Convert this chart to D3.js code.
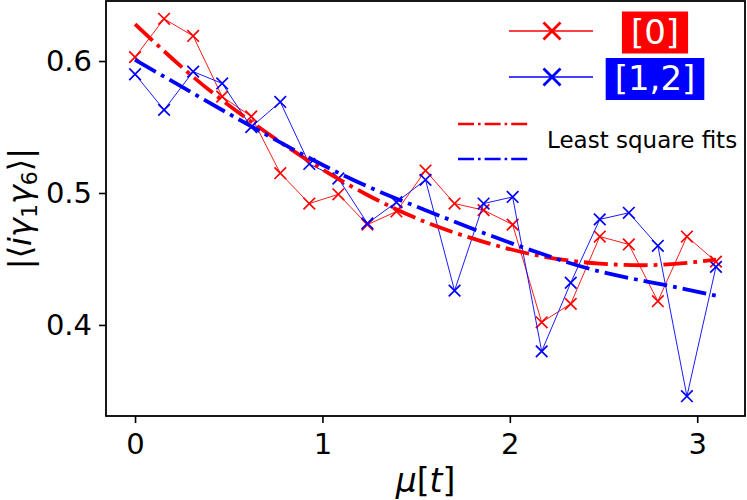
<!DOCTYPE html>
<html>
<head>
<meta charset="utf-8">
<script src="https://cdn.jsdelivr.net/npm/d3@7/dist/d3.min.js"></script>
<style>
  html, body { margin: 0; padding: 0; background: #fff; }
  svg { display: block; font-family: "DejaVu Sans", sans-serif; }
</style>
</head>
<body>
<div id="chart"></div>
<script>
// ---------------------------
// DATA
// ---------------------------
const muValues = [0, 0.155, 0.31, 0.465, 0.62, 0.775, 0.93, 1.085, 1.24, 1.395, 1.55,
                  1.705, 1.86, 2.015, 2.17, 2.325, 2.48, 2.635, 2.79, 2.945, 3.1];
const redValues = [0.603, 0.632, 0.619, 0.573, 0.558, 0.515, 0.492, 0.499, 0.476, 0.486, 0.517,
                   0.492, 0.487, 0.476, 0.402, 0.416, 0.467, 0.461, 0.418, 0.467, 0.448];
const blueValues = [0.590, 0.563, 0.592, 0.583, 0.550, 0.569, 0.522, 0.511, 0.477, 0.493, 0.510,
                    0.426, 0.492, 0.497, 0.380, 0.432, 0.480, 0.485, 0.460, 0.346, 0.444];

// least square fit curves
const fitMu = [0, 0.31, 0.62, 0.93, 1.24, 1.55, 1.86, 2.17, 2.48, 2.79, 3.1];
const fitRed = [0.628, 0.588, 0.554, 0.524, 0.4985, 0.478, 0.463, 0.452, 0.4465, 0.4455, 0.4495];
const fitBlue = [0.601, 0.5755, 0.5505, 0.5265, 0.505, 0.487, 0.4697, 0.4539, 0.4405, 0.4313, 0.4222];

const xTicks = [0, 1, 2, 3];
const yTicks = [0.4, 0.5, 0.6];
const legendLabels = ["[0]", "[1,2]"];
const fitLabel = "Least square fits";

// ---------------------------
// LAYOUT
// ---------------------------
const width = 747, height = 500;
const plot = { left: 106, right: 745, top: 1, bottom: 416 };
const RED = "#ff0000", BLUE = "#0000ff";

const svg = d3.select("#chart").append("svg")
  .attr("width", width)
  .attr("height", height);

svg.append("rect").attr("width", width).attr("height", height).attr("fill", "#fff");

const x = d3.scaleLinear().domain([-0.155, 3.255]).range([plot.left, plot.right]);
const y = d3.scaleLinear().domain([0.331, 0.6455]).range([plot.bottom, plot.top]);

// ---------------------------
// AXES
// ---------------------------
const xAxis = svg.append("g")
  .attr("transform", `translate(0,${plot.bottom})`)
  .call(d3.axisBottom(x).tickValues(xTicks).tickFormat(d3.format("d"))
    .tickSize(7).tickSizeOuter(0).tickPadding(10));

const yAxis = svg.append("g")
  .attr("transform", `translate(${plot.left},0)`)
  .call(d3.axisLeft(y).tickValues(yTicks).tickFormat(d3.format(".1f"))
    .tickSize(7).tickSizeOuter(0).tickPadding(7));

[xAxis, yAxis].forEach(a => {
  a.select(".domain").remove();
  a.selectAll(".tick line").attr("stroke", "#000").attr("stroke-width", 1.6);
  a.selectAll(".tick text")
    .attr("fill", "#000")
    .style("font-family", "DejaVu Sans")
    .style("font-size", "29px");
});

// ---------------------------
// DATA LINES + X MARKERS
// ---------------------------
const crossPath = s => `M${-s},${-s}L${s},${s}M${-s},${s}L${s},${-s}`;

const drawSeries = (values, color) => {
  const pts = muValues.map((m, i) => [m, values[i]]);
  svg.append("path")
    .datum(pts)
    .attr("fill", "none")
    .attr("stroke", color)
    .attr("stroke-width", 0.9)
    .attr("d", d3.line().x(d => x(d[0])).y(d => y(d[1])));
  svg.append("g").selectAll("path")
    .data(pts)
    .join("path")
    .attr("transform", d => `translate(${x(d[0])},${y(d[1])})`)
    .attr("d", crossPath(5.8))
    .attr("stroke", color)
    .attr("stroke-width", 1.7)
    .attr("fill", "none");
};

drawSeries(redValues, RED);
drawSeries(blueValues, BLUE);

// ---------------------------
// FIT CURVES (dash-dot)
// ---------------------------
const drawFit = (values, color) => {
  svg.append("path")
    .datum(fitMu.map((m, i) => [m, values[i]]))
    .attr("fill", "none")
    .attr("stroke", color)
    .attr("stroke-width", 3.8)
    .attr("stroke-dasharray", "24 6 3.8 6")
    .attr("d", d3.line().curve(d3.curveNatural).x(d => x(d[0])).y(d => y(d[1])));
};

drawFit(fitRed, RED);
drawFit(fitBlue, BLUE);

// frame
svg.append("rect")
  .attr("x", plot.left).attr("y", plot.top)
  .attr("width", plot.right - plot.left).attr("height", plot.bottom - plot.top)
  .attr("fill", "none").attr("stroke", "#000").attr("stroke-width", 1.8);

// ---------------------------
// LEGEND
// ---------------------------
const legend = svg.append("g");
const legendRows = [
  { color: RED, label: legendLabels[0], lineY: 31, baseY: 43.5 },
  { color: BLUE, label: legendLabels[1], lineY: 77, baseY: 90 }
];

legendRows.forEach(r => {
  legend.append("line")
    .attr("x1", 509).attr("x2", 593).attr("y1", r.lineY).attr("y2", r.lineY)
    .attr("stroke", r.color).attr("stroke-width", 1.5);
  legend.append("path")
    .attr("transform", `translate(552,${r.lineY})`)
    .attr("d", crossPath(8.5))
    .attr("stroke", r.color).attr("stroke-width", 2.8).attr("fill", "none");

  const box = legend.append("rect").attr("fill", r.color);
  const t = legend.append("text")
    .attr("x", 655).attr("y", r.baseY)
    .attr("text-anchor", "middle")
    .attr("fill", "#fff")
    .style("font-size", "34px")
    .text(r.label);
  const bb = t.node().getBBox();
  box.attr("x", bb.x - 9).attr("width", bb.width + 18)
    .attr("y", r.baseY - 32).attr("height", 42);
});

// fit legend lines
[[RED, 124], [BLUE, 159]].forEach(([c, ly]) => {
  legend.append("line")
    .attr("x1", 458).attr("x2", 528).attr("y1", ly).attr("y2", ly)
    .attr("stroke", c).attr("stroke-width", 2.6)
    .attr("stroke-dasharray", "16 4 2.6 4");
});

legend.append("text")
  .attr("x", 547).attr("y", 148)
  .attr("fill", "#000")
  .style("font-size", "23px")
  .text(fitLabel);

// ---------------------------
// AXIS LABELS (math style)
// ---------------------------
const xLabel = svg.append("text")
  .attr("x", (plot.left + plot.right) / 2).attr("y", 492)
  .attr("text-anchor", "middle")
  .attr("fill", "#000")
  .style("font-size", "33px");
xLabel.append("tspan").style("font-style", "italic").text("μ");
xLabel.append("tspan").text("[");
xLabel.append("tspan").style("font-style", "italic").text("t");
xLabel.append("tspan").text("]");

const yLabel = svg.append("text")
  .attr("transform", `translate(30.5,${(plot.top + plot.bottom) / 2}) rotate(-90)`)
  .attr("text-anchor", "middle")
  .attr("fill", "#000")
  .style("font-size", "32px");
yLabel.append("tspan").text("|⟨");
yLabel.append("tspan").style("font-style", "italic").text("iγ");
yLabel.append("tspan").attr("dy", 6).style("font-size", "22px").text("1");
yLabel.append("tspan").attr("dy", -6).style("font-style", "italic").text("γ");
yLabel.append("tspan").attr("dy", 6).style("font-size", "22px").text("6");
yLabel.append("tspan").attr("dy", -6).text("⟩|");
</script>
</body>
</html>
